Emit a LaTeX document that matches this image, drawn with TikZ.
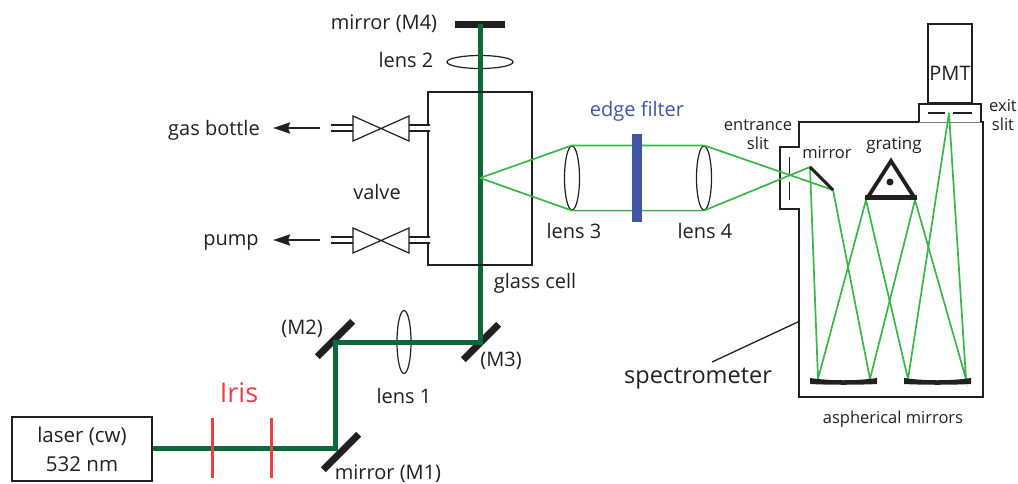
\documentclass[tikz,border=0pt]{standalone}
\usepackage{fontspec}
\setmainfont{Open Sans}
\usepackage{tikz}
\usetikzlibrary{arrows.meta,shapes.geometric}
\definecolor{txtcolor}{RGB}{35,31,32}
\definecolor{pumpcolor}{RGB}{12,106,58}
\definecolor{raycolor}{RGB}{57,181,74}
\definecolor{iriscolor}{RGB}{239,62,66}
\definecolor{filtercolor}{RGB}{66,84,164}

\begin{document}
\begin{tikzpicture}[x=1pt,y=-1pt,>={Stealth[length=17pt,width=11pt,inset=2pt]},text=txtcolor,font=\fontsize{20}{23}\selectfont]
 \tikzstyle{txt}=[inner sep=0pt,align=center]
 \tikzstyle{small}=[txt,font=\fontsize{16.5}{19}\selectfont]
 \tikzstyle{mirror}=[fill=txtcolor,inner sep=0pt,minimum width=50pt,minimum height=7pt]
 \tikzstyle{lens}=[draw=txtcolor,ellipse,inner sep=0pt,line width=1.2pt]
 \tikzstyle{pump}=[draw=pumpcolor,line width=5pt]
 \tikzstyle{ray}=[draw=raycolor,line width=1.7pt]
 \tikzstyle{wall}=[draw=txtcolor,line width=2.5pt]
 \tikzstyle{irisline}=[draw=iriscolor,line width=3pt]

 \useasboundingbox (0,0) rectangle (1018,483);

 \node[draw=txtcolor,line width=2.5pt,minimum width=140pt,minimum height=64pt,inner sep=0pt] (laser) at (82,449) {};
 \node[txt,font=\fontsize{20.5}{24}\selectfont] (lasertxt) at (82,449) {laser (cw)\\[5pt]532 nm};

 \node[mirror,rotate=45] (m1) at (341,452) {};
 \node[mirror,rotate=45] (m2) at (335,339) {};
 \node[mirror,rotate=45] (m3) at (481,342) {};
 \node[mirror] (m4) at (480,24) {};
 \coordinate (c1) at (335,448);
 \coordinate (c2) at (335,342);
 \coordinate (c3) at (480,342);

 \node[lens,minimum width=14pt,minimum height=63pt] (lens1) at (404,342) {};
 \node[lens,minimum width=66pt,minimum height=13pt] (lens2) at (480,62) {};
 \node[lens,minimum width=15pt,minimum height=64pt] (lens3) at (572,178) {};
 \node[lens,minimum width=15pt,minimum height=64pt] (lens4) at (704,178) {};

 \path[pump] (laser.east |- c1) -- (c1) -- (c2) -- (c3) -- (m4.center);

 \coordinate (iris1a) at (212,418);
 \coordinate (iris1b) at (212,478);
 \coordinate (iris2a) at (271,418);
 \coordinate (iris2b) at (271,478);
 \path[irisline] (iris1a) -- (iris1b);
 \path[irisline] (iris2a) -- (iris2b);
 \node[txt,text=iriscolor,font=\fontsize{27}{30}\selectfont] (iristxt) at (239,393) {Iris};

 % glass cell and valves
 \draw[wall] (428,125) -- (428,92) -- (532,92) -- (532,265) -- (428,265) -- (428,242);
 \draw[wall] (428,130) -- (428,237);
 \foreach \y in {128,240} {
   \draw[draw=txtcolor,line width=1.2pt] (353,\y-12) -- (409,\y+13) -- (409,\y-12) -- (353,\y+13) -- cycle;
   \draw[wall] (331,\y-3) -- (353,\y-3) (331,\y+3) -- (353,\y+3);
   \draw[wall] (409,\y-3) -- (430,\y-3) (409,\y+3) -- (430,\y+3);
 }
 \coordinate (gasa) at (320,128);
 \coordinate (gasb) at (273,128);
 \coordinate (pumpa) at (320,240);
 \coordinate (pumpb) at (273,240);
 \draw[->,draw=txtcolor,line width=2.5pt] (gasa) -- (gasb);
 \draw[->,draw=txtcolor,line width=2.5pt] (pumpa) -- (pumpb);

 % spectrometer
 \draw[wall] (780,147) -- (799,147) -- (799,122) -- (919,122) -- (919,104) -- (981,104) -- (981,122) -- (983,122) -- (983,397) -- (799,397) -- (799,209) -- (780,209) -- cycle;
 \draw[draw=white,line width=2.7pt] (799,148.3) -- (799,207.7);
 \draw[draw=white,line width=2.7pt] (920.3,122) -- (979.7,122);
 \draw[draw=txtcolor!60,line width=0.7pt] (919,122) -- (981,122);
 \node[draw=txtcolor,line width=1.5pt,minimum width=44pt,minimum height=79pt,inner sep=0pt] (pmt) at (950,63.5) {};
 \draw[draw=txtcolor,line width=1.4pt] (928,113) -- (945,113) (953,113) -- (972,113);
 \draw[draw=txtcolor,line width=0.9pt] (789,157) -- (789,174) (789,182) -- (789,200);

 \coordinate (focus) at (480,178);
 \coordinate (fold1) at (810,167);
 \coordinate (fold2) at (833,190);
 \coordinate (gr1) at (866,200);
 \coordinate (gr2) at (915,200);
 \coordinate (as1) at (818,379);
 \coordinate (as2) at (870,379);
 \coordinate (as3) at (908,379);
 \coordinate (as4) at (966,379);
 \coordinate (exit) at (949,113);

 \path[ray] (focus) -- (lens3.north) -- (lens4.north) -- (fold2) -- (as2) -- (gr2) -- (as4) -- (exit);
 \path[ray] (focus) -- (lens3.south) -- (lens4.south) -- (fold1) -- (as1) -- (gr1) -- (as3) -- (exit);

 \node[fill=filtercolor,minimum width=10pt,minimum height=88pt,inner sep=0pt] (filter) at (637,178) {};

 \draw[draw=txtcolor,line width=3pt] (fold1) -- (fold2);
 \draw[draw=txtcolor,line width=3.8pt,line join=miter] (891,161) -- (914,197) -- (868,197) -- cycle;
 \draw[draw=txtcolor,line width=5pt] (865,197) -- (917,197);
 \node[circle,fill=txtcolor,minimum size=7pt,inner sep=0pt] (graxis) at (890,182) {};
 \fill[txtcolor] (810,378) .. controls (830,381) and (857,381) .. (877,378) -- (877,384) .. controls (857,385) and (830,385) .. (810,384) -- cycle;
 \fill[txtcolor] (904,378) .. controls (924,381) and (951,381) .. (971,378) -- (971,384) .. controls (951,385) and (924,385) .. (904,384) -- cycle;

 \coordinate (leadera) at (712,362);
 \coordinate (leaderb) at (800,321);
 \draw[draw=txtcolor,line width=1.3pt] (leadera) -- (leaderb);

 \node[txt] (m4txt) at (384,24) {mirror (M4)};
 \node[txt] (lens2txt) at (406,60) {lens 2};
 \node[txt] (gastxt) at (214,130) {gas bottle};
 \node[txt] (pumptxt) at (231,242) {pump};
 \node[txt] (valvetxt) at (377,192) {valve};
 \node[txt] (celltxt) at (535,283) {glass cell};
 \node[txt,text=filtercolor,font=\fontsize{20}{23}\selectfont] (filtertxt) at (637,111) {edge filter};
 \node[txt] (lens3txt) at (574,231) {lens 3};
 \node[txt] (lens4txt) at (705,231) {lens 4};
 \node[txt] (lens1txt) at (404,396) {lens 1};
 \node[txt] (m2txt) at (302,329) {(M2)};
 \node[txt] (m3txt) at (501,361) {(M3)};
 \node[txt] (m1txt) at (388,474) {mirror (M1)};
 \node[txt,font=\fontsize{23.5}{27}\selectfont] (spectxt) at (698,379) {spectrometer};
 \node[small] (asptxt) at (893,419) {aspherical mirrors};
 \node[small] (enttxt) at (758,135) {entrance\\[0pt]slit};
 \node[small] (mirrortxt) at (827,153) {mirror};
 \node[small,font=\fontsize{17}{20}\selectfont] (gratingtxt) at (894,145) {grating};
 \node[small] (exittxt) at (1003,115) {exit\\[0pt]slit};
 \node[txt,font=\fontsize{20}{24}\selectfont] (pmttxt) at (950,73) {PMT};

\end{tikzpicture}
\end{document}
